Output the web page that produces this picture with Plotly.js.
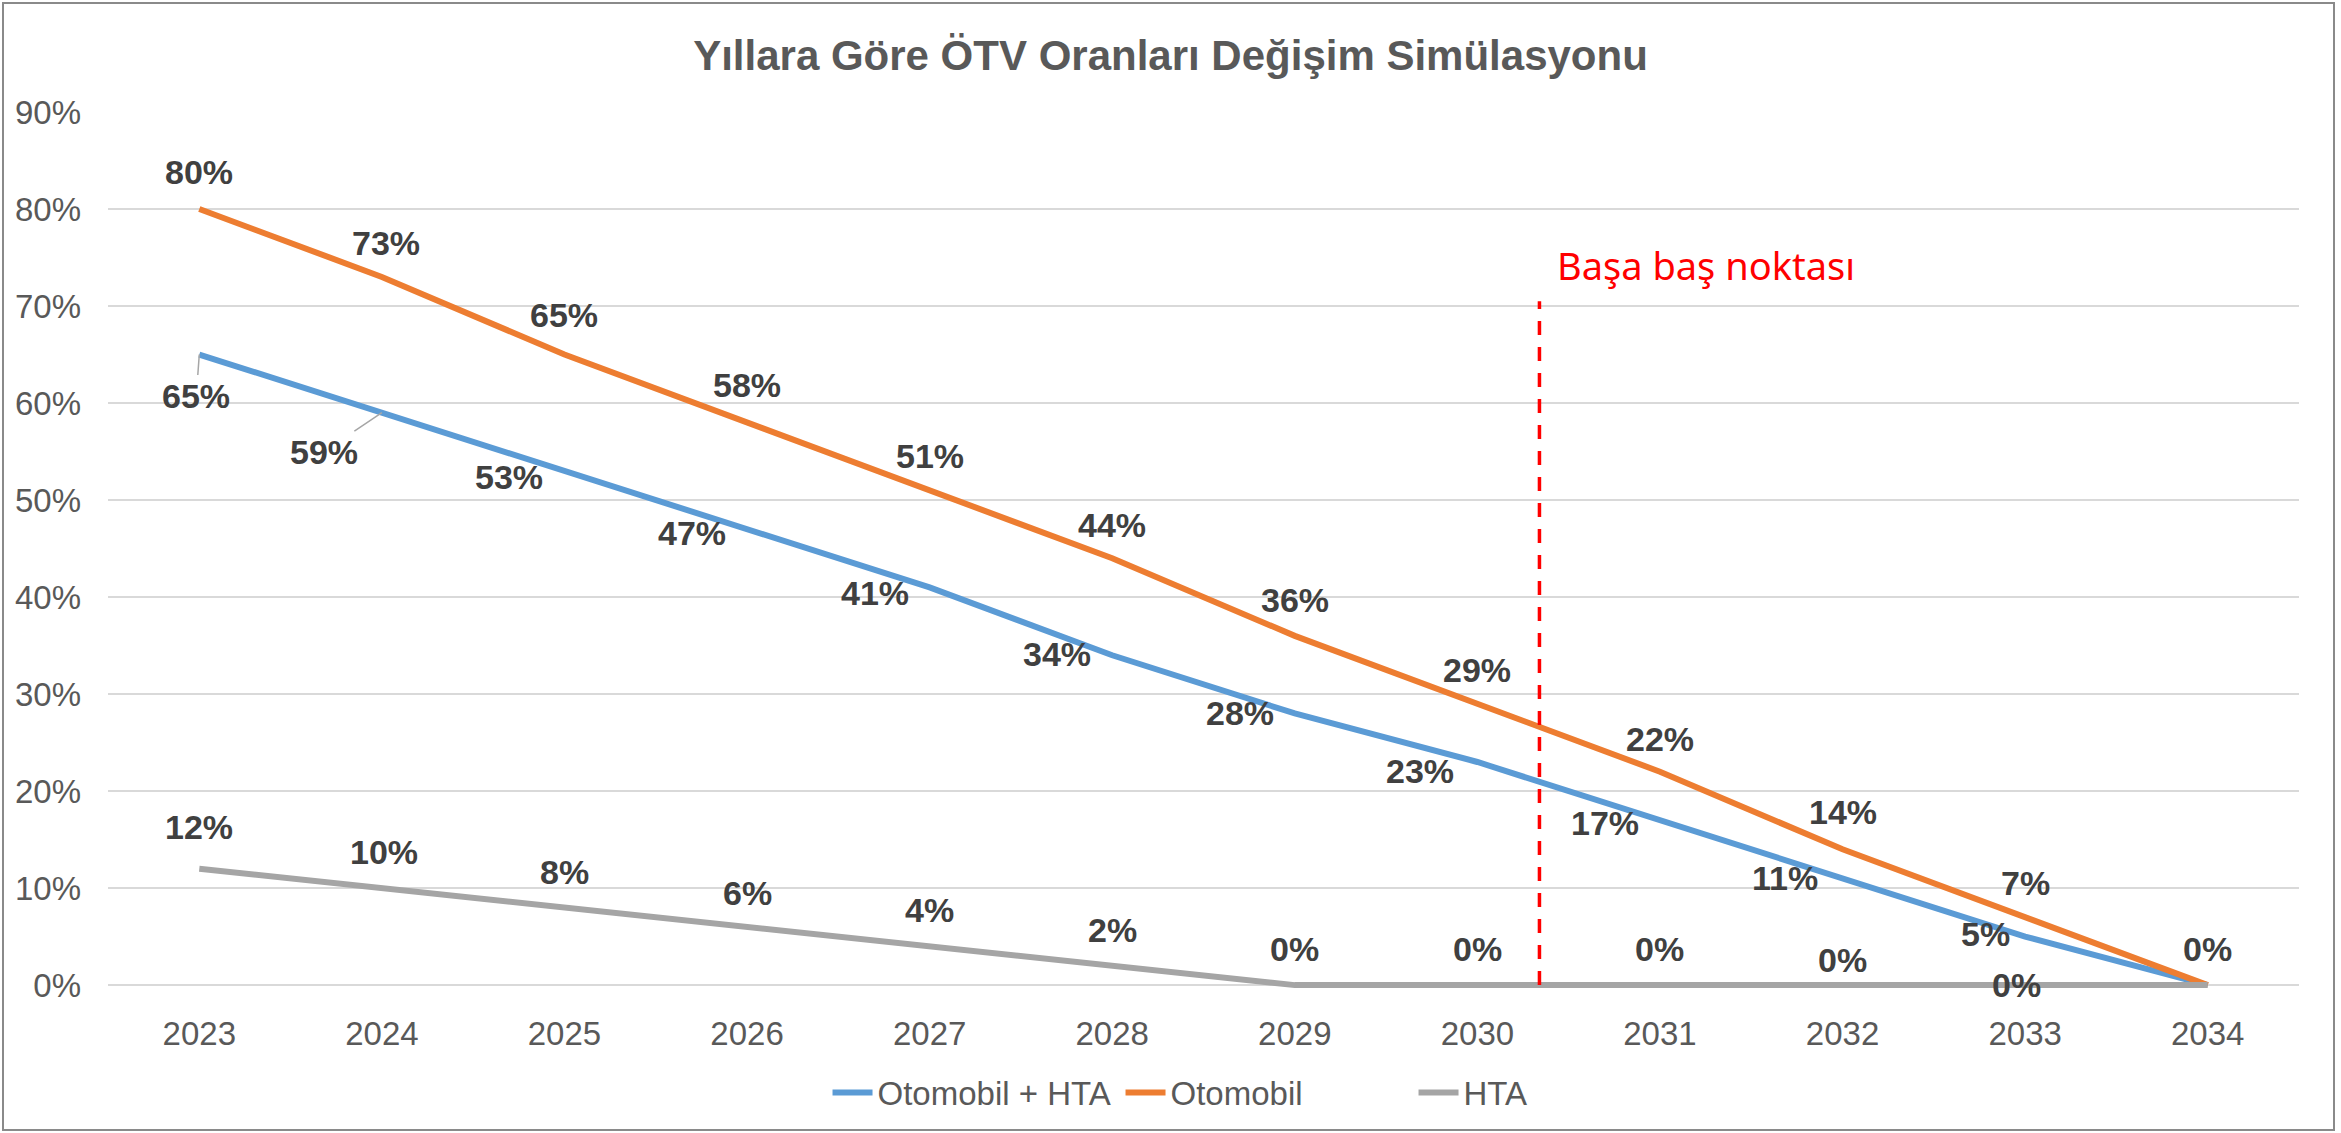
<!DOCTYPE html>
<html><head><meta charset="utf-8">
<script src="https://cdn.plot.ly/plotly-3.0.1.min.js"></script>
<style>
html,body{margin:0;padding:0;background:#fff;overflow:hidden}
#chart{position:absolute;left:0;top:0;width:2341px;height:1133px}
#frame{position:absolute;left:2px;top:2px;width:2333px;height:1129px;border:2px solid #8a8a8a;box-sizing:border-box;pointer-events:none}
</style></head><body>
<div id="chart"></div><div id="frame"></div>
<script>
// ---- data ----
const years = [2023, 2024, 2025, 2026, 2027, 2028, 2029, 2030, 2031, 2032, 2033, 2034];
const otomobilHta = [0.65, 0.59, 0.53, 0.47, 0.41, 0.34, 0.28, 0.23, 0.17, 0.11, 0.05, 0.00];
const otomobil    = [0.80, 0.73, 0.65, 0.58, 0.51, 0.44, 0.36, 0.29, 0.22, 0.14, 0.07, 0.00];
const hta         = [0.12, 0.10, 0.08, 0.06, 0.04, 0.02, 0.00, 0.00, 0.00, 0.00, 0.00, 0.00];
const seriesNames = ['Otomobil + HTA', 'Otomobil', 'HTA'];
const yTicks = [0, 0.1, 0.2, 0.3, 0.4, 0.5, 0.6, 0.7, 0.8, 0.9];
const chartTitle = 'Yıllara Göre ÖTV Oranları Değişim Simülasyonu';
const breakEvenYear = 2030.34;
const breakEvenTop = 0.705;
const breakEvenLabel = 'Başa baş noktası';
const breakEvenLabelY = 0.742;

// ---- styles ----
const colors = ['#5B9BD5', '#ED7D31', '#A5A5A5'];
const narrow = 'Liberation Sans Narrow, Arial Narrow, sans-serif';
const labelFont = {family: narrow, size: 34, color: '#404040', weight: 'bold'};

// label placement per series: [xshift, yshift(screen down positive)] ; null = hidden
const blueShift = [['arrow', -3, 41], ['arrow', -58, 39], [-55, 6], [-55, 4], [-55, 6], [-55, -1], [-55, 0], [-57, 9], [-55, 3], [-58, 0], [-40, -3], null];
const orangeShift = [[0, -37], [4, -34], [0, -40], [0, -37], [0, -34], [0, -33], [0, -36], [0, -34], [0, -33], [0, -37], [0, -34], [0, -36]];
const grayShift = [[0, -42], [2, -36], [0, -36], [0, -34], [0, -36], [0, -36], [0, -36], [0, -36], [0, -36], [0, -25], [-9, 0], null];

const pct = v => Math.round(v * 100) + '%';
const seriesVals = [otomobilHta, otomobil, hta];
const shifts = [blueShift, orangeShift, grayShift];

const traces = seriesVals.map((vals, i) => ({
  type: 'scatter', mode: 'lines', x: years, y: vals, name: seriesNames[i],
  line: {color: colors[i], width: 6}, hoverinfo: 'skip'
}));

const annotations = [];
seriesVals.forEach((vals, i) => {
  vals.forEach((v, k) => {
    const s = shifts[i][k];
    if (!s) return;
    if (s[0] === 'arrow') {
      annotations.push({x: years[k], y: v, xref: 'x', yref: 'y', text: pct(v), showarrow: true,
        arrowhead: 0, arrowwidth: 1.5, arrowcolor: '#A6A6A6', ax: s[1], ay: s[2], standoff: 0,
        font: labelFont});
    } else {
      annotations.push({x: years[k], y: v, xref: 'x', yref: 'y', text: pct(v), showarrow: false,
        xshift: s[0], yshift: -s[1], font: labelFont});
    }
  });
});
annotations.push({x: breakEvenYear, y: breakEvenLabelY, xref: 'x', yref: 'y', text: breakEvenLabel,
  showarrow: false, xanchor: 'left', xshift: 16,
  font: {family: 'Noto Sans, DejaVu Sans, sans-serif', size: 38, color: '#FF0000'}});

const layout = {
  width: 2341, height: 1133,
  margin: {l: 108, r: 42, t: 112, b: 139},
  paper_bgcolor: '#ffffff', plot_bgcolor: '#ffffff',
  title: {text: chartTitle, x: 0.5, xref: 'container', xanchor: 'center', y: 0.951, yref: 'container', yanchor: 'middle',
    font: {family: narrow, size: 42, color: '#595959', weight: 'bold'}},
  xaxis: {range: [2022.5, 2034.5], tickvals: years, ticktext: years.map(String), showgrid: false,
    zeroline: false, showline: false, ticks: '', ticklabelstandoff: 22,
    tickfont: {family: narrow, size: 33, color: '#595959'}},
  yaxis: {range: [-0.004, 0.9], tickvals: yTicks, tickformat: '.0%', showgrid: true, gridcolor: '#D9D9D9', gridwidth: 2,
    zeroline: false, showline: false, ticks: '', ticklabelstandoff: 26,
    tickfont: {family: narrow, size: 33, color: '#595959'}},
  showlegend: true,
  legend: {orientation: 'h', x: 0.3284, xanchor: 'left', y: -0.118, yanchor: 'middle',
    entrywidth: 238, entrywidthmode: 'pixels', itemwidth: 40,
    font: {family: narrow, size: 33, color: '#595959'}, bgcolor: 'rgba(0,0,0,0)'},
  shapes: [{type: 'line', xref: 'x', yref: 'y', x0: breakEvenYear, x1: breakEvenYear, y0: 0, y1: breakEvenTop,
    line: {color: '#FF0000', width: 3.5, dash: '14px,12px'}}],
  annotations: annotations
};

Plotly.newPlot('chart', traces, layout, {displayModeBar: false, staticPlot: true});
</script>
</body></html>
